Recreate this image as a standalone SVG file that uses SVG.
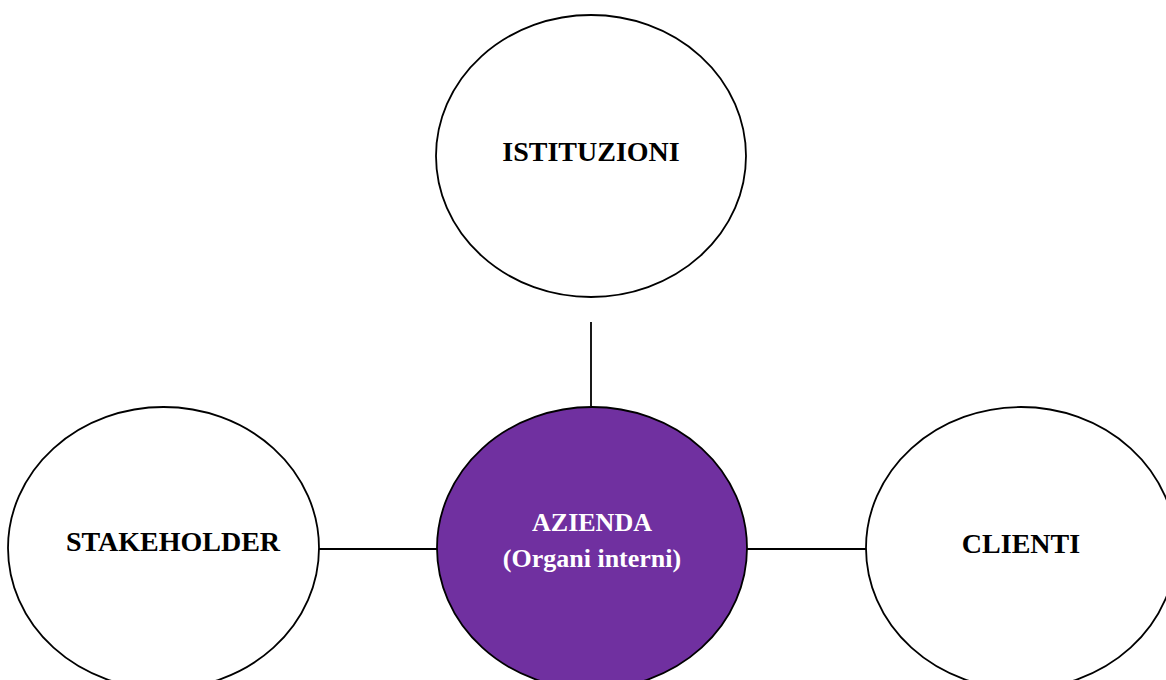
<svg xmlns="http://www.w3.org/2000/svg" width="1166" height="680" viewBox="0 0 1166 680">
<style>
.node{fill:#fff;stroke:#000;stroke-width:1.8}
.main{fill:#7030a0;stroke:#000;stroke-width:1.8}
.lbl{font-family:"Liberation Serif",serif;font-weight:bold;font-size:28px;text-anchor:middle;fill:#000}
.wl{fill:#fff;font-size:26px}
.conn{stroke:#000;stroke-width:1.8;fill:none}
</style>
<rect width="1166" height="680" fill="#fff"/>
<g id="connectors">
<line class="conn" x1="591" y1="322" x2="591" y2="406"/>
<line class="conn" x1="319" y1="549" x2="437" y2="549"/>
<line class="conn" x1="747" y1="549" x2="866" y2="549"/>
</g>
<g id="istituzioni">
<ellipse class="node" cx="591" cy="156" rx="155" ry="141"/>
<text class="lbl" x="591" y="161">ISTITUZIONI</text>
</g>
<g id="azienda">
<ellipse class="main" cx="592" cy="548" rx="155" ry="141"/>
<text class="lbl wl" x="592" y="531">AZIENDA</text>
<text class="lbl wl" x="592" y="567">(Organi interni)</text>
</g>
<g id="stakeholder">
<ellipse class="node" cx="163.5" cy="548" rx="155.5" ry="141"/>
<text class="lbl" x="173" y="551">STAKEHOLDER</text>
</g>
<g id="clienti">
<ellipse class="node" cx="1021" cy="548" rx="155" ry="141"/>
<text class="lbl" x="1021" y="553">CLIENTI</text>
</g>
</svg>
